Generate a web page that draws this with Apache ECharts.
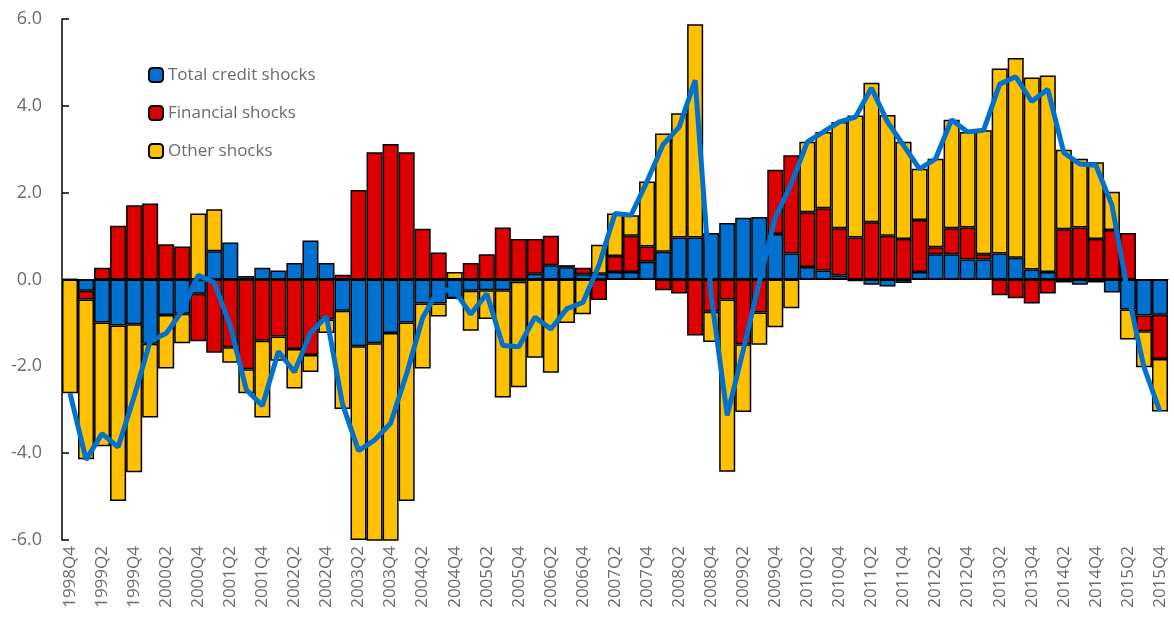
<!DOCTYPE html>
<html>
<head>
<meta charset="utf-8">
<script src="https://cdn.jsdelivr.net/npm/echarts@6/dist/echarts.min.js"></script>
<style>
  html, body { margin: 0; padding: 0; background: #fff; }
  #chart { width: 1174px; height: 618px; }
</style>
</head>
<body>
<div id="chart"></div>
<script>
const quarters = [
  '1998Q4',
  '1999Q1', '1999Q2', '1999Q3', '1999Q4',
  '2000Q1', '2000Q2', '2000Q3', '2000Q4',
  '2001Q1', '2001Q2', '2001Q3', '2001Q4',
  '2002Q1', '2002Q2', '2002Q3', '2002Q4',
  '2003Q1', '2003Q2', '2003Q3', '2003Q4',
  '2004Q1', '2004Q2', '2004Q3', '2004Q4',
  '2005Q1', '2005Q2', '2005Q3', '2005Q4',
  '2006Q1', '2006Q2', '2006Q3', '2006Q4',
  '2007Q1', '2007Q2', '2007Q3', '2007Q4',
  '2008Q1', '2008Q2', '2008Q3', '2008Q4',
  '2009Q1', '2009Q2', '2009Q3', '2009Q4',
  '2010Q1', '2010Q2', '2010Q3', '2010Q4',
  '2011Q1', '2011Q2', '2011Q3', '2011Q4',
  '2012Q1', '2012Q2', '2012Q3', '2012Q4',
  '2013Q1', '2013Q2', '2013Q3', '2013Q4',
  '2014Q1', '2014Q2', '2014Q3', '2014Q4',
  '2015Q1', '2015Q2', '2015Q3', '2015Q4'
];

// contributions
const creditShocks = [
  0,
  -0.26, -0.99, -1.06, -1.03,
  -1.48, -0.82, -0.79, -0.33,
  0.65, 0.85, 0.08, 0.27,
  0.21, 0.38, 0.90, 0.38,
  -0.72, -1.54, -1.47, -1.23,
  -0.99, -0.55, -0.55, -0.43,
  -0.26, -0.25, -0.25, -0.05,
  0.13, 0.33, 0.28, 0.12,
  0.13, 0.17, 0.17, 0.41,
  0.64, 0.97, 0.97, 1.07,
  1.30, 1.42, 1.44, 1.05,
  0.60, 0.29, 0.21, 0.09,
  -0.04, -0.12, -0.16, -0.08,
  0.17, 0.58, 0.58, 0.46,
  0.46, 0.60, 0.50, 0.23,
  0.17, -0.07, -0.12, -0.07,
  -0.30, -0.69, -0.83, -0.81
];

const financialShocks = [
  0,
  -0.20, 0.27, 1.24, 1.71,
  1.75, 0.81, 0.76, -1.09,
  -1.69, -1.56, -2.07, -1.41,
  -1.31, -1.60, -1.74, -0.92,
  0.11, 2.06, 2.93, 3.12,
  2.93, 1.17, 0.62, 0,
  0.38, 0.58, 1.20, 0.93,
  0.80, 0.68, 0.05, 0.15,
  -0.47, 0.37, 0.84, 0.35,
  -0.25, -0.32, -1.29, -0.74,
  -0.46, -1.49, -0.76, 1.48,
  2.26, 1.26, 1.43, 1.09,
  0.97, 1.32, 1.01, 0.93,
  1.20, 0.16, 0.60, 0.74,
  0.12, -0.36, -0.43, -0.55,
  -0.32, 1.16, 1.20, 0.93,
  1.14, 1.07, -0.36, -1.02
];

const otherShocks = [
  -2.62,
  -3.68, -2.85, -4.04, -3.41,
  -1.70, -1.23, -0.68, 1.52,
  0.97, -0.36, -0.55, -1.77,
  -0.56, -0.91, -0.39, -0.31,
  -2.26, -4.46, -5.16, -5.20,
  -4.11, -1.50, -0.30, 0.17,
  -0.92, -0.66, -2.47, -2.43,
  -1.80, -2.15, -1.00, -0.80,
  0.67, 0.98, 0.47, 1.50,
  2.72, 2.86, 4.91, -0.70,
  -3.97, -1.56, -0.74, -1.10,
  -0.66, 1.62, 1.76, 2.45,
  2.81, 3.21, 2.78, 2.24,
  1.18, 2.04, 2.50, 2.20,
  2.86, 4.26, 4.60, 4.42,
  4.53, 1.83, 1.58, 1.77,
  0.88, -0.69, -0.83, -1.21
];

const totalLine = [
  -2.62,
  -4.15, -3.55, -3.86, -2.70,
  -1.42, -1.24, -0.72, 0.10,
  -0.07, -1.07, -2.54, -2.91,
  -1.66, -2.13, -1.23, -0.85,
  -2.87, -3.94, -3.70, -3.31,
  -2.17, -0.88, -0.23, -0.26,
  -0.80, -0.33, -1.52, -1.55,
  -0.87, -1.14, -0.67, -0.53,
  0.33, 1.52, 1.48, 2.26,
  3.11, 3.51, 4.59, -0.37,
  -3.13, -1.63, -0.06, 1.43,
  2.20, 3.17, 3.40, 3.63,
  3.74, 4.41, 3.63, 3.09,
  2.55, 2.78, 3.68, 3.40,
  3.44, 4.50, 4.67, 4.10,
  4.38, 2.92, 2.66, 2.63,
  1.72, -0.31, -2.02, -3.04
];

const yTicks = { min: -6, max: 6, step: 2 };

const BLUE = '#0071CE';
const RED = '#DD0000';
const YELLOW = '#FFC000';
const GREY = '#6b6b6b';
const FONT = '"Open Sans", "Noto Sans", sans-serif';

const barSeries = (name, data, color) => ({
  name,
  type: 'bar',
  stack: 'shocks',
  data,
  barCategoryGap: '0%',
  itemStyle: { color, borderColor: '#000', borderWidth: 1.5 },
  emphasis: { disabled: true }
});

const chart = echarts.init(document.getElementById('chart'), null, { renderer: 'canvas' });

chart.setOption({
  animation: false,
  backgroundColor: '#fff',
  textStyle: { fontFamily: FONT },
  grid: { left: 62, right: 6, top: 19, bottom: 78, containLabel: false },
  legend: {
    orient: 'vertical',
    left: 143,
    top: 61,
    itemWidth: 14,
    itemHeight: 14,
    itemGap: 20,
    data: ['Total credit shocks', 'Financial shocks', 'Other shocks'],
    textStyle: { color: GREY, fontSize: 17, fontFamily: FONT, lineHeight: 18 }
  },
  xAxis: [
    {
      type: 'category',
      data: quarters,
      position: 'bottom',
      axisLine: { show: false, onZero: false },
      axisTick: { show: false },
      axisLabel: {
        interval: 1,
        rotate: 90,
        margin: 6,
        color: GREY,
        fontSize: 17,
        fontFamily: FONT
      }
    },
    {
      type: 'category',
      data: quarters,
      axisLine: { show: true, onZero: true, lineStyle: { color: '#000', width: 1 } },
      axisTick: { show: false },
      axisLabel: { show: false }
    }
  ],
  yAxis: {
    type: 'value',
    min: yTicks.min,
    max: yTicks.max,
    interval: yTicks.step,
    axisLine: { show: true, lineStyle: { color: '#000', width: 1.5 } },
    axisTick: { show: true, inside: true, length: 7, lineStyle: { color: '#000', width: 1.5 } },
    splitLine: { show: false },
    axisLabel: {
      color: GREY,
      fontSize: 18,
      fontFamily: FONT,
      margin: 20,
      formatter: v => v.toFixed(1)
    }
  },
  series: [
    barSeries('Total credit shocks', creditShocks, BLUE),
    barSeries('Financial shocks', financialShocks, RED),
    barSeries('Other shocks', otherShocks, YELLOW),
    {
      name: 'Total',
      type: 'line',
      data: totalLine,
      symbol: 'none',
      z: 5,
      lineStyle: { color: BLUE, width: 5 },
      itemStyle: { color: BLUE },
      emphasis: { disabled: true }
    }
  ]
});
</script>
</body>
</html>
